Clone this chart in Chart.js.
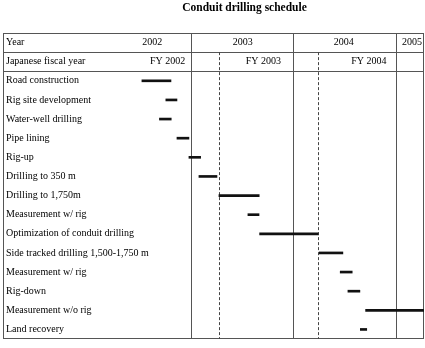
<!DOCTYPE html>
<html>
<head>
<meta charset="utf-8">
<script src="https://cdn.jsdelivr.net/npm/chart.js@4/dist/chart.umd.min.js"></script>
<style>
  html, body { margin: 0; padding: 0; background: #fff; }
  canvas { display: block; }
</style>
</head>
<body>
<canvas id="c" width="425" height="348"></canvas>
<script>
// ---- Data (months relative to January 2003 = 0) ----
const chartTitle = 'Conduit drilling schedule';
const categories = [
  'Year',
  'Japanese fiscal year',
  'Road construction',
  'Rig site development',
  'Water-well drilling',
  'Pipe lining',
  'Rig-up',
  'Drilling to 350 m',
  'Drilling to 1,750m',
  'Measurement w/ rig',
  'Optimization of conduit drilling',
  'Side tracked drilling 1,500-1,750 m',
  'Measurement w/ rig',
  'Rig-down',
  'Measurement w/o rig',
  'Land recovery'
];
const taskStart = [null, null, -5.7, -2.9, -3.65, -1.6, -0.2, 0.97, 3.31, 6.7, 8.07, 15.04, 17.5, 18.4, 20.47, 19.85];
const taskEnd   = [null, null, -2.3, -1.6, -2.27, -0.2, 1.17, 3.08, 8.02, 8.0, 14.92, 17.81, 18.9, 19.8, 27.3, 20.6];

const yearLabels = ['2002', '2003', '2004', '2005'];
const yearLabelPos = [-4.5, 6.1, 17.9, 25.9];
const yearStarts = [0, 12, 24];

const fiscalLabels = ['FY 2002', 'FY 2003', 'FY 2004'];
const fiscalLabelPos = [-2.7, 8.5, 20.85];
const fiscalStarts = [3.35, 14.92];

const axisMin = -21.95;
const axisMax = 27.3;

// ---- Chart ----
const serif = "'Liberation Serif', 'Times New Roman', serif";

const tablePlugin = {
  id: 'table',
  beforeDatasetsDraw(chart) {
    const { ctx, chartArea: a, scales: { x, y } } = chart;
    ctx.save();
    ctx.lineWidth = 1;
    ctx.strokeStyle = '#555';
    const snap = v => Math.round(v) + 0.5;
    // outer frame
    ctx.strokeRect(snap(a.left), snap(a.top), Math.round(a.right) - Math.round(a.left) - 1, Math.round(a.bottom) - Math.round(a.top) - 1);
    // header separators
    [0.5, 1.5].forEach(v => {
      const py = snap(y.getPixelForValue(v));
      ctx.beginPath(); ctx.moveTo(a.left, py); ctx.lineTo(a.right, py); ctx.stroke();
    });
    // year boundaries
    yearStarts.forEach(m => {
      const px = snap(x.getPixelForValue(m));
      ctx.beginPath(); ctx.moveTo(px, a.top); ctx.lineTo(px, a.bottom); ctx.stroke();
    });
    // fiscal-year boundaries (dashed, from fiscal row down)
    ctx.setLineDash([3, 2]);
    ctx.strokeStyle = '#444';
    const fy0 = y.getPixelForValue(0.5);
    fiscalStarts.forEach(m => {
      const px = snap(x.getPixelForValue(m));
      ctx.beginPath(); ctx.moveTo(px, fy0); ctx.lineTo(px, a.bottom); ctx.stroke();
    });
    ctx.restore();
  },
  afterDraw(chart) {
    const { ctx, scales: { x, y } } = chart;
    ctx.save();
    ctx.fillStyle = '#000';
    ctx.textBaseline = 'middle';
    ctx.textAlign = 'center';
    ctx.font = '10px ' + serif;
    const r0 = y.getPixelForValue(0);
    const r1 = y.getPixelForValue(1);
    yearLabels.forEach((t, i) => ctx.fillText(t, x.getPixelForValue(yearLabelPos[i]), r0));
    fiscalLabels.forEach((t, i) => ctx.fillText(t, x.getPixelForValue(fiscalLabelPos[i]), r1));
    // title
    ctx.font = 'bold 11.5px ' + serif;
    ctx.textBaseline = 'alphabetic';
    ctx.fillText(chartTitle, 244.5, 10.5);
    ctx.restore();
  }
};

new Chart(document.getElementById('c'), {
  type: 'bar',
  data: {
    labels: categories,
    datasets: [{
      data: categories.map((c, i) => taskStart[i] === null ? null : [taskStart[i], taskEnd[i]]),
      backgroundColor: '#111',
      borderWidth: 0,
      borderSkipped: false,
      barThickness: 2
    }]
  },
  options: {
    indexAxis: 'y',
    responsive: false,
    animation: false,
    devicePixelRatio: 1,
    layout: { padding: { top: 33, left: 3, right: 1, bottom: 1 } },
    plugins: {
      legend: { display: false },
      title: { display: false },
      tooltip: { enabled: false }
    },
    scales: {
      x: { type: 'linear', min: axisMin, max: axisMax, display: false },
      y: {
        type: 'category',
        offset: true,
        grid: { display: false, drawTicks: false },
        border: { display: false },
        ticks: {
          mirror: true,
          padding: 3,
          color: '#000',
          font: { family: serif, size: 10 }
        },
        afterFit(s) { s.width = 0; }
      }
    }
  },
  plugins: [tablePlugin]
});
</script>
</body>
</html>
